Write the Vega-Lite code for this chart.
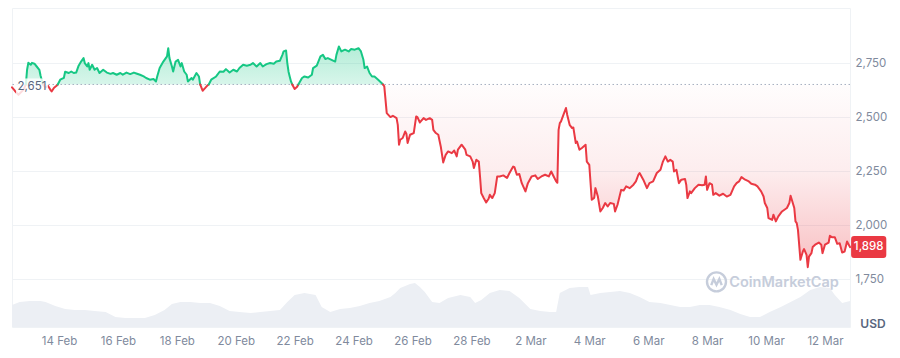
{
  "$schema": "https://vega.github.io/schema/vega-lite/v6.json",
  "width": 838,
  "height": 319,
  "autosize": {"type": "none"},
  "padding": {"left": 12, "top": 8, "right": 50, "bottom": 31},
  "background": "#ffffff",
  "config": {
    "font": "Inter",
    "view": {"stroke": "#eff2f5", "strokeWidth": 1},
    "axis": {"domain": false, "ticks": false, "labelColor": "#808a9d", "labelFont": "Inter", "labelFontSize": 11.5}
  },
  "datasets": {
    "one": [{"k": 1}],
    "vol": [
      {"t":"2025-02-12T09:43","v":22},{"t":"2025-02-12T16:00","v":25},{"t":"2025-02-13T00:00","v":26},{"t":"2025-02-13T09:00","v":26},
      {"t":"2025-02-13T13:00","v":25},{"t":"2025-02-13T21:00","v":21},{"t":"2025-02-14T05:00","v":18},{"t":"2025-02-14T13:00","v":17},
      {"t":"2025-02-14T21:00","v":17},{"t":"2025-02-15T05:00","v":16},{"t":"2025-02-15T14:00","v":15},{"t":"2025-02-15T22:00","v":10},
      {"t":"2025-02-16T06:00","v":9},{"t":"2025-02-16T14:00","v":9},{"t":"2025-02-16T22:00","v":9},{"t":"2025-02-17T06:00","v":12},
      {"t":"2025-02-17T14:00","v":17},{"t":"2025-02-17T20:00","v":23},{"t":"2025-02-18T03:00","v":25},{"t":"2025-02-18T11:00","v":25},
      {"t":"2025-02-18T19:00","v":24},{"t":"2025-02-19T03:00","v":24},{"t":"2025-02-19T11:00","v":21},{"t":"2025-02-19T19:00","v":16},
      {"t":"2025-02-20T03:00","v":15},{"t":"2025-02-20T12:00","v":14},{"t":"2025-02-20T20:00","v":15},{"t":"2025-02-21T04:00","v":16},
      {"t":"2025-02-21T12:00","v":17},{"t":"2025-02-21T18:00","v":25},{"t":"2025-02-22T00:00","v":32},{"t":"2025-02-22T08:00","v":34},
      {"t":"2025-02-22T17:00","v":32},{"t":"2025-02-22T22:00","v":20},{"t":"2025-02-23T05:00","v":15},{"t":"2025-02-23T13:00","v":18},
      {"t":"2025-02-23T21:00","v":19},{"t":"2025-02-24T05:00","v":21},{"t":"2025-02-24T13:00","v":24},{"t":"2025-02-24T21:00","v":26},
      {"t":"2025-02-25T06:00","v":30},{"t":"2025-02-25T10:00","v":34},{"t":"2025-02-25T14:00","v":39},{"t":"2025-02-25T22:00","v":43},
      {"t":"2025-02-26T02:00","v":44},{"t":"2025-02-26T06:00","v":40},{"t":"2025-02-26T10:00","v":35},{"t":"2025-02-26T16:00","v":25},
      {"t":"2025-02-26T22:00","v":24},{"t":"2025-02-27T05:00","v":29},{"t":"2025-02-27T15:00","v":32},{"t":"2025-02-27T23:00","v":30},
      {"t":"2025-02-28T03:00","v":24},{"t":"2025-02-28T08:00","v":27},{"t":"2025-02-28T15:00","v":34},{"t":"2025-02-28T23:00","v":37},
      {"t":"2025-03-01T07:00","v":36},{"t":"2025-03-01T15:00","v":29},{"t":"2025-03-02T00:00","v":18},{"t":"2025-03-02T08:00","v":16},
      {"t":"2025-03-02T16:00","v":15},{"t":"2025-03-02T21:00","v":15},{"t":"2025-03-03T00:00","v":34},{"t":"2025-03-03T08:00","v":39},
      {"t":"2025-03-03T16:00","v":40},{"t":"2025-03-03T23:00","v":40},{"t":"2025-03-04T01:00","v":32},{"t":"2025-03-04T09:00","v":34},
      {"t":"2025-03-04T17:00","v":35},{"t":"2025-03-05T01:00","v":36},{"t":"2025-03-05T09:00","v":34},{"t":"2025-03-05T17:00","v":30},
      {"t":"2025-03-06T01:00","v":25},{"t":"2025-03-06T10:00","v":24},{"t":"2025-03-06T18:00","v":22},{"t":"2025-03-07T02:00","v":20},
      {"t":"2025-03-07T10:00","v":20},{"t":"2025-03-07T18:00","v":22},{"t":"2025-03-08T02:00","v":22},{"t":"2025-03-08T10:00","v":20},
      {"t":"2025-03-08T19:00","v":17},{"t":"2025-03-09T03:00","v":13},{"t":"2025-03-09T11:00","v":10},{"t":"2025-03-09T19:00","v":10},
      {"t":"2025-03-10T03:00","v":15},{"t":"2025-03-10T12:00","v":20},{"t":"2025-03-10T20:00","v":25},{"t":"2025-03-11T04:00","v":30},
      {"t":"2025-03-11T12:00","v":37},{"t":"2025-03-11T20:00","v":40},{"t":"2025-03-12T04:00","v":39},{"t":"2025-03-12T08:00","v":32},
      {"t":"2025-03-12T14:00","v":24},{"t":"2025-03-12T20:24","v":26}
    ],
    "price": [
      {"t":"2025-02-12T09:43","p":2638,"s":"down","g":1},{"t":"2025-02-12T12:00","p":2622,"s":"down","g":1},{"t":"2025-02-12T15:00","p":2603,"s":"down","g":1},{"t":"2025-02-12T19:00","p":2626,"s":"down","g":1},{"t":"2025-02-12T21:00","p":2651,"s":"down","g":1},
      {"t":"2025-02-12T21:00","p":2651,"s":"up","g":2},{"t":"2025-02-12T22:00","p":2719,"s":"up","g":2},{"t":"2025-02-12T23:00","p":2751,"s":"up","g":2},{"t":"2025-02-13T01:00","p":2742,"s":"up","g":2},{"t":"2025-02-13T02:00","p":2751,"s":"up","g":2},{"t":"2025-02-13T04:00","p":2747,"s":"up","g":2},{"t":"2025-02-13T06:00","p":2733,"s":"up","g":2},{"t":"2025-02-13T08:00","p":2719,"s":"up","g":2},{"t":"2025-02-13T09:00","p":2691,"s":"up","g":2},{"t":"2025-02-13T11:00","p":2651,"s":"up","g":2},
      {"t":"2025-02-13T11:00","p":2651,"s":"down","g":3},{"t":"2025-02-13T13:00","p":2636,"s":"down","g":3},{"t":"2025-02-13T15:00","p":2645,"s":"down","g":3},{"t":"2025-02-13T17:00","p":2626,"s":"down","g":3},{"t":"2025-02-13T18:00","p":2619,"s":"down","g":3},{"t":"2025-02-13T20:00","p":2636,"s":"down","g":3},{"t":"2025-02-13T22:00","p":2645,"s":"down","g":3},{"t":"2025-02-13T23:00","p":2651,"s":"down","g":3},
      {"t":"2025-02-13T23:00","p":2651,"s":"up","g":4},{"t":"2025-02-14T01:00","p":2673,"s":"up","g":4},{"t":"2025-02-14T04:00","p":2682,"s":"up","g":4},{"t":"2025-02-14T05:00","p":2710,"s":"up","g":4},{"t":"2025-02-14T08:00","p":2704,"s":"up","g":4},{"t":"2025-02-14T10:00","p":2711,"s":"up","g":4},{"t":"2025-02-14T12:00","p":2704,"s":"up","g":4},{"t":"2025-02-14T14:00","p":2706,"s":"up","g":4},{"t":"2025-02-14T16:00","p":2738,"s":"up","g":4},{"t":"2025-02-14T18:00","p":2757,"s":"up","g":4},{"t":"2025-02-14T20:00","p":2773,"s":"up","g":4},{"t":"2025-02-14T21:00","p":2750,"s":"up","g":4},{"t":"2025-02-14T23:00","p":2734,"s":"up","g":4},
      {"t":"2025-02-15T00:00","p":2750,"s":"up","g":4},{"t":"2025-02-15T01:00","p":2719,"s":"up","g":4},{"t":"2025-02-15T03:00","p":2742,"s":"up","g":4},{"t":"2025-02-15T05:00","p":2719,"s":"up","g":4},{"t":"2025-02-15T07:00","p":2727,"s":"up","g":4},{"t":"2025-02-15T09:00","p":2704,"s":"up","g":4},{"t":"2025-02-15T12:00","p":2719,"s":"up","g":4},{"t":"2025-02-15T15:00","p":2706,"s":"up","g":4},{"t":"2025-02-15T18:00","p":2700,"s":"up","g":4},{"t":"2025-02-15T20:00","p":2704,"s":"up","g":4},{"t":"2025-02-15T23:00","p":2696,"s":"up","g":4},
      {"t":"2025-02-16T02:00","p":2704,"s":"up","g":4},{"t":"2025-02-16T04:00","p":2696,"s":"up","g":4},{"t":"2025-02-16T07:00","p":2706,"s":"up","g":4},{"t":"2025-02-16T10:00","p":2699,"s":"up","g":4},{"t":"2025-02-16T13:00","p":2706,"s":"up","g":4},{"t":"2025-02-16T15:00","p":2702,"s":"up","g":4},{"t":"2025-02-16T18:00","p":2696,"s":"up","g":4},{"t":"2025-02-16T21:00","p":2688,"s":"up","g":4},{"t":"2025-02-16T23:00","p":2681,"s":"up","g":4},
      {"t":"2025-02-17T02:00","p":2673,"s":"up","g":4},{"t":"2025-02-17T05:00","p":2676,"s":"up","g":4},{"t":"2025-02-17T07:00","p":2665,"s":"up","g":4},{"t":"2025-02-17T08:00","p":2688,"s":"up","g":4},{"t":"2025-02-17T10:00","p":2727,"s":"up","g":4},{"t":"2025-02-17T13:00","p":2757,"s":"up","g":4},{"t":"2025-02-17T16:00","p":2781,"s":"up","g":4},{"t":"2025-02-17T17:00","p":2819,"s":"up","g":4},{"t":"2025-02-17T18:00","p":2773,"s":"up","g":4},{"t":"2025-02-17T20:00","p":2734,"s":"up","g":4},{"t":"2025-02-17T21:00","p":2711,"s":"up","g":4},{"t":"2025-02-17T23:00","p":2757,"s":"up","g":4},
      {"t":"2025-02-18T01:00","p":2765,"s":"up","g":4},{"t":"2025-02-18T03:00","p":2734,"s":"up","g":4},{"t":"2025-02-18T04:00","p":2750,"s":"up","g":4},{"t":"2025-02-18T06:00","p":2711,"s":"up","g":4},{"t":"2025-02-18T08:00","p":2696,"s":"up","g":4},{"t":"2025-02-18T09:00","p":2665,"s":"up","g":4},{"t":"2025-02-18T12:00","p":2681,"s":"up","g":4},{"t":"2025-02-18T13:00","p":2673,"s":"up","g":4},{"t":"2025-02-18T16:00","p":2704,"s":"up","g":4},{"t":"2025-02-18T18:00","p":2688,"s":"up","g":4},{"t":"2025-02-18T19:00","p":2651,"s":"up","g":4},
      {"t":"2025-02-18T19:00","p":2651,"s":"down","g":5},{"t":"2025-02-18T21:00","p":2622,"s":"down","g":5},{"t":"2025-02-18T23:00","p":2634,"s":"down","g":5},{"t":"2025-02-19T01:00","p":2647,"s":"down","g":5},{"t":"2025-02-19T02:00","p":2651,"s":"down","g":5},
      {"t":"2025-02-19T02:00","p":2651,"s":"up","g":6},{"t":"2025-02-19T04:00","p":2673,"s":"up","g":6},{"t":"2025-02-19T08:00","p":2688,"s":"up","g":6},{"t":"2025-02-19T11:00","p":2711,"s":"up","g":6},{"t":"2025-02-19T14:00","p":2710,"s":"up","g":6},{"t":"2025-02-19T16:00","p":2722,"s":"up","g":6},{"t":"2025-02-19T19:00","p":2706,"s":"up","g":6},{"t":"2025-02-19T22:00","p":2719,"s":"up","g":6},
      {"t":"2025-02-20T01:00","p":2711,"s":"up","g":6},{"t":"2025-02-20T03:00","p":2727,"s":"up","g":6},{"t":"2025-02-20T06:00","p":2742,"s":"up","g":6},{"t":"2025-02-20T09:00","p":2738,"s":"up","g":6},{"t":"2025-02-20T12:00","p":2742,"s":"up","g":6},{"t":"2025-02-20T14:00","p":2750,"s":"up","g":6},{"t":"2025-02-20T17:00","p":2734,"s":"up","g":6},{"t":"2025-02-20T20:00","p":2750,"s":"up","g":6},{"t":"2025-02-20T22:00","p":2734,"s":"up","g":6},
      {"t":"2025-02-21T01:00","p":2745,"s":"up","g":6},{"t":"2025-02-21T04:00","p":2750,"s":"up","g":6},{"t":"2025-02-21T07:00","p":2747,"s":"up","g":6},{"t":"2025-02-21T09:00","p":2757,"s":"up","g":6},{"t":"2025-02-21T12:00","p":2761,"s":"up","g":6},{"t":"2025-02-21T14:00","p":2788,"s":"up","g":6},{"t":"2025-02-21T15:00","p":2804,"s":"up","g":6},{"t":"2025-02-21T17:00","p":2808,"s":"up","g":6},{"t":"2025-02-21T18:00","p":2750,"s":"up","g":6},{"t":"2025-02-21T19:00","p":2710,"s":"up","g":6},{"t":"2025-02-21T20:00","p":2687,"s":"up","g":6},{"t":"2025-02-21T21:00","p":2665,"s":"up","g":6},{"t":"2025-02-21T22:00","p":2651,"s":"up","g":6},
      {"t":"2025-02-21T22:00","p":2651,"s":"down","g":7},{"t":"2025-02-22T00:00","p":2630,"s":"down","g":7},{"t":"2025-02-22T02:00","p":2640,"s":"down","g":7},{"t":"2025-02-22T03:00","p":2651,"s":"down","g":7},
      {"t":"2025-02-22T03:00","p":2651,"s":"up","g":8},{"t":"2025-02-22T06:00","p":2681,"s":"up","g":8},{"t":"2025-02-22T08:00","p":2688,"s":"up","g":8},{"t":"2025-02-22T11:00","p":2683,"s":"up","g":8},{"t":"2025-02-22T14:00","p":2696,"s":"up","g":8},{"t":"2025-02-22T15:00","p":2727,"s":"up","g":8},{"t":"2025-02-22T18:00","p":2738,"s":"up","g":8},{"t":"2025-02-22T21:00","p":2781,"s":"up","g":8},{"t":"2025-02-22T23:00","p":2788,"s":"up","g":8},
      {"t":"2025-02-23T01:00","p":2769,"s":"up","g":8},{"t":"2025-02-23T03:00","p":2773,"s":"up","g":8},{"t":"2025-02-23T06:00","p":2765,"s":"up","g":8},{"t":"2025-02-23T09:00","p":2757,"s":"up","g":8},{"t":"2025-02-23T10:00","p":2788,"s":"up","g":8},{"t":"2025-02-23T12:00","p":2827,"s":"up","g":8},{"t":"2025-02-23T14:00","p":2804,"s":"up","g":8},{"t":"2025-02-23T17:00","p":2812,"s":"up","g":8},{"t":"2025-02-23T20:00","p":2804,"s":"up","g":8},{"t":"2025-02-23T22:00","p":2815,"s":"up","g":8},
      {"t":"2025-02-24T01:00","p":2812,"s":"up","g":8},{"t":"2025-02-24T04:00","p":2819,"s":"up","g":8},{"t":"2025-02-24T06:00","p":2804,"s":"up","g":8},{"t":"2025-02-24T08:00","p":2765,"s":"up","g":8},{"t":"2025-02-24T09:00","p":2727,"s":"up","g":8},{"t":"2025-02-24T11:00","p":2734,"s":"up","g":8},{"t":"2025-02-24T13:00","p":2704,"s":"up","g":8},{"t":"2025-02-24T15:00","p":2688,"s":"up","g":8},{"t":"2025-02-24T17:00","p":2688,"s":"up","g":8},{"t":"2025-02-24T20:00","p":2673,"s":"up","g":8},{"t":"2025-02-24T23:00","p":2657,"s":"up","g":8},{"t":"2025-02-25T00:00","p":2651,"s":"up","g":8},
      {"t":"2025-02-25T00:00","p":2651,"s":"down","g":9},{"t":"2025-02-25T01:00","p":2642,"s":"down","g":9},{"t":"2025-02-25T03:00","p":2518,"s":"down","g":9},{"t":"2025-02-25T06:00","p":2500,"s":"down","g":9},{"t":"2025-02-25T08:00","p":2506,"s":"down","g":9},{"t":"2025-02-25T11:00","p":2495,"s":"down","g":9},{"t":"2025-02-25T12:00","p":2464,"s":"down","g":9},{"t":"2025-02-25T13:00","p":2372,"s":"down","g":9},{"t":"2025-02-25T14:00","p":2395,"s":"down","g":9},{"t":"2025-02-25T16:00","p":2403,"s":"down","g":9},{"t":"2025-02-25T18:00","p":2433,"s":"down","g":9},{"t":"2025-02-25T19:00","p":2423,"s":"down","g":9},{"t":"2025-02-25T20:00","p":2380,"s":"down","g":9},{"t":"2025-02-25T22:00","p":2418,"s":"down","g":9},
      {"t":"2025-02-26T01:00","p":2426,"s":"down","g":9},{"t":"2025-02-26T03:00","p":2503,"s":"down","g":9},{"t":"2025-02-26T04:00","p":2500,"s":"down","g":9},{"t":"2025-02-26T06:00","p":2475,"s":"down","g":9},{"t":"2025-02-26T09:00","p":2495,"s":"down","g":9},{"t":"2025-02-26T11:00","p":2487,"s":"down","g":9},{"t":"2025-02-26T14:00","p":2495,"s":"down","g":9},{"t":"2025-02-26T16:00","p":2487,"s":"down","g":9},{"t":"2025-02-26T17:00","p":2441,"s":"down","g":9},{"t":"2025-02-26T19:00","p":2426,"s":"down","g":9},{"t":"2025-02-26T21:00","p":2418,"s":"down","g":9},{"t":"2025-02-26T23:00","p":2364,"s":"down","g":9},
      {"t":"2025-02-27T01:00","p":2290,"s":"down","g":9},{"t":"2025-02-27T03:00","p":2325,"s":"down","g":9},{"t":"2025-02-27T05:00","p":2341,"s":"down","g":9},{"t":"2025-02-27T08:00","p":2333,"s":"down","g":9},{"t":"2025-02-27T10:00","p":2345,"s":"down","g":9},{"t":"2025-02-27T12:00","p":2318,"s":"down","g":9},{"t":"2025-02-27T13:00","p":2349,"s":"down","g":9},{"t":"2025-02-27T16:00","p":2372,"s":"down","g":9},{"t":"2025-02-27T19:00","p":2349,"s":"down","g":9},{"t":"2025-02-27T20:00","p":2325,"s":"down","g":9},{"t":"2025-02-27T23:00","p":2318,"s":"down","g":9},
      {"t":"2025-02-28T01:00","p":2294,"s":"down","g":9},{"t":"2025-02-28T02:00","p":2264,"s":"down","g":9},{"t":"2025-02-28T04:00","p":2302,"s":"down","g":9},{"t":"2025-02-28T06:00","p":2294,"s":"down","g":9},{"t":"2025-02-28T07:00","p":2225,"s":"down","g":9},{"t":"2025-02-28T08:00","p":2148,"s":"down","g":9},{"t":"2025-02-28T10:00","p":2125,"s":"down","g":9},{"t":"2025-02-28T12:00","p":2105,"s":"down","g":9},{"t":"2025-02-28T14:00","p":2122,"s":"down","g":9},{"t":"2025-02-28T15:00","p":2140,"s":"down","g":9},{"t":"2025-02-28T17:00","p":2125,"s":"down","g":9},{"t":"2025-02-28T19:00","p":2148,"s":"down","g":9},{"t":"2025-02-28T21:00","p":2225,"s":"down","g":9},{"t":"2025-02-28T23:00","p":2225,"s":"down","g":9},
      {"t":"2025-03-01T02:00","p":2230,"s":"down","g":9},{"t":"2025-03-01T05:00","p":2218,"s":"down","g":9},{"t":"2025-03-01T07:00","p":2241,"s":"down","g":9},{"t":"2025-03-01T10:00","p":2271,"s":"down","g":9},{"t":"2025-03-01T11:00","p":2268,"s":"down","g":9},{"t":"2025-03-01T13:00","p":2233,"s":"down","g":9},{"t":"2025-03-01T15:00","p":2236,"s":"down","g":9},{"t":"2025-03-01T17:00","p":2194,"s":"down","g":9},{"t":"2025-03-01T20:00","p":2156,"s":"down","g":9},{"t":"2025-03-01T22:00","p":2194,"s":"down","g":9},
      {"t":"2025-03-02T01:00","p":2225,"s":"down","g":9},{"t":"2025-03-02T04:00","p":2230,"s":"down","g":9},{"t":"2025-03-02T06:00","p":2213,"s":"down","g":9},{"t":"2025-03-02T09:00","p":2225,"s":"down","g":9},{"t":"2025-03-02T12:00","p":2233,"s":"down","g":9},{"t":"2025-03-02T15:00","p":2225,"s":"down","g":9},{"t":"2025-03-02T17:00","p":2248,"s":"down","g":9},{"t":"2025-03-02T19:00","p":2225,"s":"down","g":9},{"t":"2025-03-02T21:00","p":2202,"s":"down","g":9},{"t":"2025-03-02T22:00","p":2196,"s":"down","g":9},{"t":"2025-03-02T23:00","p":2441,"s":"down","g":9},
      {"t":"2025-03-03T00:00","p":2472,"s":"down","g":9},{"t":"2025-03-03T01:00","p":2480,"s":"down","g":9},{"t":"2025-03-03T03:00","p":2511,"s":"down","g":9},{"t":"2025-03-03T05:00","p":2542,"s":"down","g":9},{"t":"2025-03-03T06:00","p":2511,"s":"down","g":9},{"t":"2025-03-03T08:00","p":2464,"s":"down","g":9},{"t":"2025-03-03T10:00","p":2449,"s":"down","g":9},{"t":"2025-03-03T11:00","p":2452,"s":"down","g":9},{"t":"2025-03-03T13:00","p":2380,"s":"down","g":9},{"t":"2025-03-03T14:00","p":2387,"s":"down","g":9},{"t":"2025-03-03T16:00","p":2349,"s":"down","g":9},{"t":"2025-03-03T18:00","p":2357,"s":"down","g":9},{"t":"2025-03-03T21:00","p":2372,"s":"down","g":9},{"t":"2025-03-03T22:00","p":2294,"s":"down","g":9},
      {"t":"2025-03-04T00:00","p":2279,"s":"down","g":9},{"t":"2025-03-04T02:00","p":2117,"s":"down","g":9},{"t":"2025-03-04T04:00","p":2126,"s":"down","g":9},{"t":"2025-03-04T05:00","p":2171,"s":"down","g":9},{"t":"2025-03-04T07:00","p":2132,"s":"down","g":9},{"t":"2025-03-04T09:00","p":2063,"s":"down","g":9},{"t":"2025-03-04T11:00","p":2079,"s":"down","g":9},{"t":"2025-03-04T13:00","p":2102,"s":"down","g":9},{"t":"2025-03-04T15:00","p":2086,"s":"down","g":9},{"t":"2025-03-04T17:00","p":2102,"s":"down","g":9},{"t":"2025-03-04T20:00","p":2098,"s":"down","g":9},{"t":"2025-03-04T21:00","p":2063,"s":"down","g":9},{"t":"2025-03-04T23:00","p":2094,"s":"down","g":9},
      {"t":"2025-03-05T02:00","p":2163,"s":"down","g":9},{"t":"2025-03-05T04:00","p":2160,"s":"down","g":9},{"t":"2025-03-05T06:00","p":2179,"s":"down","g":9},{"t":"2025-03-05T09:00","p":2171,"s":"down","g":9},{"t":"2025-03-05T12:00","p":2187,"s":"down","g":9},{"t":"2025-03-05T14:00","p":2202,"s":"down","g":9},{"t":"2025-03-05T16:00","p":2233,"s":"down","g":9},{"t":"2025-03-05T17:00","p":2241,"s":"down","g":9},{"t":"2025-03-05T20:00","p":2210,"s":"down","g":9},{"t":"2025-03-05T23:00","p":2171,"s":"down","g":9},
      {"t":"2025-03-06T01:00","p":2194,"s":"down","g":9},{"t":"2025-03-06T04:00","p":2202,"s":"down","g":9},{"t":"2025-03-06T07:00","p":2241,"s":"down","g":9},{"t":"2025-03-06T10:00","p":2256,"s":"down","g":9},{"t":"2025-03-06T12:00","p":2294,"s":"down","g":9},{"t":"2025-03-06T14:00","p":2318,"s":"down","g":9},{"t":"2025-03-06T16:00","p":2294,"s":"down","g":9},{"t":"2025-03-06T18:00","p":2302,"s":"down","g":9},{"t":"2025-03-06T20:00","p":2294,"s":"down","g":9},{"t":"2025-03-06T21:00","p":2248,"s":"down","g":9},{"t":"2025-03-06T23:00","p":2256,"s":"down","g":9},
      {"t":"2025-03-07T01:00","p":2194,"s":"down","g":9},{"t":"2025-03-07T03:00","p":2210,"s":"down","g":9},{"t":"2025-03-07T06:00","p":2213,"s":"down","g":9},{"t":"2025-03-07T07:00","p":2187,"s":"down","g":9},{"t":"2025-03-07T08:00","p":2125,"s":"down","g":9},{"t":"2025-03-07T10:00","p":2156,"s":"down","g":9},{"t":"2025-03-07T11:00","p":2148,"s":"down","g":9},{"t":"2025-03-07T14:00","p":2171,"s":"down","g":9},{"t":"2025-03-07T17:00","p":2187,"s":"down","g":9},{"t":"2025-03-07T20:00","p":2184,"s":"down","g":9},{"t":"2025-03-07T22:00","p":2187,"s":"down","g":9},{"t":"2025-03-07T23:00","p":2225,"s":"down","g":9},
      {"t":"2025-03-08T00:00","p":2163,"s":"down","g":9},{"t":"2025-03-08T02:00","p":2194,"s":"down","g":9},{"t":"2025-03-08T04:00","p":2187,"s":"down","g":9},{"t":"2025-03-08T05:00","p":2140,"s":"down","g":9},{"t":"2025-03-08T07:00","p":2148,"s":"down","g":9},{"t":"2025-03-08T10:00","p":2136,"s":"down","g":9},{"t":"2025-03-08T13:00","p":2145,"s":"down","g":9},{"t":"2025-03-08T16:00","p":2132,"s":"down","g":9},{"t":"2025-03-08T19:00","p":2140,"s":"down","g":9},{"t":"2025-03-08T22:00","p":2179,"s":"down","g":9},
      {"t":"2025-03-09T00:00","p":2194,"s":"down","g":9},{"t":"2025-03-09T02:00","p":2202,"s":"down","g":9},{"t":"2025-03-09T04:00","p":2222,"s":"down","g":9},{"t":"2025-03-09T07:00","p":2210,"s":"down","g":9},{"t":"2025-03-09T10:00","p":2202,"s":"down","g":9},{"t":"2025-03-09T12:00","p":2191,"s":"down","g":9},{"t":"2025-03-09T15:00","p":2187,"s":"down","g":9},{"t":"2025-03-09T17:00","p":2179,"s":"down","g":9},{"t":"2025-03-09T20:00","p":2156,"s":"down","g":9},{"t":"2025-03-09T22:00","p":2132,"s":"down","g":9},{"t":"2025-03-09T23:00","p":2102,"s":"down","g":9},
      {"t":"2025-03-10T01:00","p":2079,"s":"down","g":9},{"t":"2025-03-10T02:00","p":2032,"s":"down","g":9},{"t":"2025-03-10T05:00","p":2024,"s":"down","g":9},{"t":"2025-03-10T06:00","p":2048,"s":"down","g":9},{"t":"2025-03-10T08:00","p":2017,"s":"down","g":9},{"t":"2025-03-10T10:00","p":2040,"s":"down","g":9},{"t":"2025-03-10T13:00","p":2063,"s":"down","g":9},{"t":"2025-03-10T15:00","p":2071,"s":"down","g":9},{"t":"2025-03-10T17:00","p":2079,"s":"down","g":9},{"t":"2025-03-10T19:00","p":2102,"s":"down","g":9},{"t":"2025-03-10T20:00","p":2136,"s":"down","g":9},{"t":"2025-03-10T21:00","p":2117,"s":"down","g":9},{"t":"2025-03-10T23:00","p":2079,"s":"down","g":9},
      {"t":"2025-03-11T00:00","p":2017,"s":"down","g":9},{"t":"2025-03-11T01:00","p":2009,"s":"down","g":9},{"t":"2025-03-11T02:00","p":1978,"s":"down","g":9},{"t":"2025-03-11T04:00","p":1839,"s":"down","g":9},{"t":"2025-03-11T06:00","p":1878,"s":"down","g":9},{"t":"2025-03-11T07:00","p":1889,"s":"down","g":9},{"t":"2025-03-11T09:00","p":1862,"s":"down","g":9},{"t":"2025-03-11T10:00","p":1805,"s":"down","g":9},{"t":"2025-03-11T11:00","p":1854,"s":"down","g":9},{"t":"2025-03-11T13:00","p":1870,"s":"down","g":9},{"t":"2025-03-11T14:00","p":1898,"s":"down","g":9},{"t":"2025-03-11T16:00","p":1909,"s":"down","g":9},{"t":"2025-03-11T19:00","p":1919,"s":"down","g":9},{"t":"2025-03-11T21:00","p":1909,"s":"down","g":9},{"t":"2025-03-11T22:00","p":1870,"s":"down","g":9},
      {"t":"2025-03-12T00:00","p":1909,"s":"down","g":9},{"t":"2025-03-12T03:00","p":1919,"s":"down","g":9},{"t":"2025-03-12T04:00","p":1950,"s":"down","g":9},{"t":"2025-03-12T06:00","p":1943,"s":"down","g":9},{"t":"2025-03-12T08:00","p":1944,"s":"down","g":9},{"t":"2025-03-12T10:00","p":1913,"s":"down","g":9},{"t":"2025-03-12T12:00","p":1916,"s":"down","g":9},{"t":"2025-03-12T14:00","p":1873,"s":"down","g":9},{"t":"2025-03-12T16:00","p":1877,"s":"down","g":9},{"t":"2025-03-12T17:00","p":1901,"s":"down","g":9},{"t":"2025-03-12T18:00","p":1924,"s":"down","g":9},{"t":"2025-03-12T19:00","p":1913,"s":"down","g":9},{"t":"2025-03-12T20:24","p":1898,"s":"down","g":9}
    ]
  },
  "resolve": {"scale": {"y": "independent"}},
  "layer": [
    {
      "data": {"name": "vol"},
      "mark": {"type": "area", "color": "#eceff4", "opacity": 1},
      "encoding": {
        "x": {
          "field": "t", "type": "temporal", "title": null,
          "scale": {"domain": [{"year": 2025, "month": 2, "date": 12, "hours": 9, "minutes": 43}, {"year": 2025, "month": 3, "date": 12, "hours": 20, "minutes": 24}]},
          "axis": {
            "format": "%-d %b", "grid": false, "labelPadding": 8, "labelFlush": false, "labelOverlap": false,
            "values": [
              {"year": 2025, "month": 2, "date": 14}, {"year": 2025, "month": 2, "date": 16}, {"year": 2025, "month": 2, "date": 18},
              {"year": 2025, "month": 2, "date": 20}, {"year": 2025, "month": 2, "date": 22}, {"year": 2025, "month": 2, "date": 24},
              {"year": 2025, "month": 2, "date": 26}, {"year": 2025, "month": 2, "date": 28}, {"year": 2025, "month": 3, "date": 2},
              {"year": 2025, "month": 3, "date": 4}, {"year": 2025, "month": 3, "date": 6}, {"year": 2025, "month": 3, "date": 8},
              {"year": 2025, "month": 3, "date": 10}, {"year": 2025, "month": 3, "date": 12}
            ]
          }
        },
        "y": {"field": "v", "type": "quantitative", "scale": {"domain": [0, 319], "nice": false, "zero": true}, "axis": null}
      }
    },
    {
      "layer": [
        {
          "data": {"name": "price"},
          "transform": [{"filter": "datum.s === 'up'"}],
          "mark": {
            "type": "area",
            "fill": {"gradient": "linear", "x1": 0, "y1": 0, "x2": 0, "y2": 1, "stops": [{"offset": 0, "color": "rgba(22,199,132,0.32)"}, {"offset": 1, "color": "rgba(22,199,132,0.17)"}]}
          },
          "encoding": {
            "x": {"field": "t", "type": "temporal"},
            "y": {
              "field": "p", "type": "quantitative",
              "scale": {"domain": [1528, 3005], "nice": false, "zero": false},
              "axis": {
                "orient": "right", "values": [1750, 2000, 2250, 2500, 2750], "format": ",.0f", "formatType": "number", "grid": true, "gridColor": "#eff2f5", "gridWidth": 1,
                "labelPadding": 5, "labelAlign": "left",
                "title": "USD", "titleAngle": 0, "titleX": 22.5, "titleY": 315, "titleAlign": "center", "titleBaseline": "middle",
                "titleColor": "#58667e", "titleFontSize": 12, "titleFontWeight": 600, "titleFont": "Inter"
              }
            },
            "y2": {"datum": 2651}
          }
        },
        {
          "data": {"name": "price"},
          "transform": [{"filter": "datum.s === 'down'"}],
          "mark": {
            "type": "area",
            "fill": {"gradient": "linear", "x1": 0, "y1": 0, "x2": 0, "y2": 1, "stops": [{"offset": 0, "color": "rgba(234,57,67,0.01)"}, {"offset": 0.47, "color": "rgba(234,57,67,0.09)"}, {"offset": 0.8, "color": "rgba(234,57,67,0.23)"}, {"offset": 1, "color": "rgba(234,57,67,0.32)"}]}
          },
          "encoding": {
            "x": {"field": "t", "type": "temporal"},
            "y": {"field": "p", "type": "quantitative"},
            "y2": {"datum": 2651}
          }
        },
        {
          "data": {"name": "one"},
          "mark": {"type": "rule", "color": "#a6afc0", "strokeDash": [1.5, 2.5], "strokeWidth": 1},
          "encoding": {"y": {"datum": 2651}}
        },
        {
          "data": {"name": "price"},
          "mark": {"type": "line", "strokeWidth": 2, "strokeJoin": "round", "strokeCap": "round"},
          "encoding": {
            "x": {"field": "t", "type": "temporal"},
            "y": {"field": "p", "type": "quantitative"},
            "color": {"field": "s", "type": "nominal", "scale": {"domain": ["up", "down"], "range": ["#16c784", "#ea3943"]}, "legend": null},
            "detail": {"field": "g", "type": "nominal"}
          }
        },
        {
          "data": {"name": "one"},
          "mark": {"type": "point", "shape": "M0.8,-1.2 H7.2 V2.4 H0.8 Z", "size": 100, "filled": true, "color": "#ffffff", "opacity": 0.82, "strokeWidth": 0},
          "encoding": {
            "x": {"datum": {"year": 2025, "month": 2, "date": 12, "hours": 9, "minutes": 43}, "type": "temporal"},
            "y": {"datum": 2651}
          }
        },
        {
          "data": {"name": "one"},
          "mark": {"type": "text", "text": "2,651", "dx": 20, "dy": 3, "align": "center", "baseline": "middle", "fontSize": 11.5, "color": "#58667e", "font": "Inter"},
          "encoding": {
            "x": {"datum": {"year": 2025, "month": 2, "date": 12, "hours": 9, "minutes": 43}, "type": "temporal"},
            "y": {"datum": 2651}
          }
        },
        {
          "data": {"name": "one"},
          "mark": {"type": "point", "shape": "M1,0 A1,1 0 1,0 -1,0 A1,1 0 1,0 1,0 M-0.55,0.35 L-0.3,-0.3 L0,0.3 L0.3,-0.3 L0.55,0.35", "size": 361, "filled": false, "color": "#c6cddb", "strokeWidth": 2.4, "opacity": 1},
          "encoding": {
            "x": {"datum": {"year": 2025, "month": 3, "date": 8, "hours": 7, "minutes": 38}, "type": "temporal"},
            "y": {"datum": 1737}
          }
        },
        {
          "data": {"name": "one"},
          "mark": {"type": "text", "text": "CoinMarketCap", "align": "center", "baseline": "middle", "fontSize": 14.5, "fontWeight": 600, "color": "#c6cddb", "font": "Inter"},
          "encoding": {
            "x": {"datum": {"year": 2025, "month": 3, "date": 10, "hours": 14, "minutes": 40}, "type": "temporal"},
            "y": {"datum": 1734}
          }
        },
        {
          "data": {"name": "one"},
          "mark": {"type": "point", "shape": "M0.37,-1 H3.03 Q3.3,-1 3.3,-0.73 V0.73 Q3.3,1 3.03,1 H0.37 Q0.1,1 0.1,0.73 V-0.73 Q0.1,-1 0.37,-1 Z", "size": 484, "filled": true, "color": "#ea3943", "opacity": 1, "strokeWidth": 0},
          "encoding": {
            "x": {"datum": {"year": 2025, "month": 3, "date": 12, "hours": 20, "minutes": 24}, "type": "temporal"},
            "y": {"datum": 1898}
          }
        },
        {
          "data": {"name": "one"},
          "mark": {"type": "text", "text": "1,898", "dx": 18.7, "align": "center", "baseline": "middle", "fontSize": 11.5, "fontWeight": 500, "color": "#ffffff", "font": "Inter"},
          "encoding": {
            "x": {"datum": {"year": 2025, "month": 3, "date": 12, "hours": 20, "minutes": 24}, "type": "temporal"},
            "y": {"datum": 1898}
          }
        }
      ]
    }
  ]
}
